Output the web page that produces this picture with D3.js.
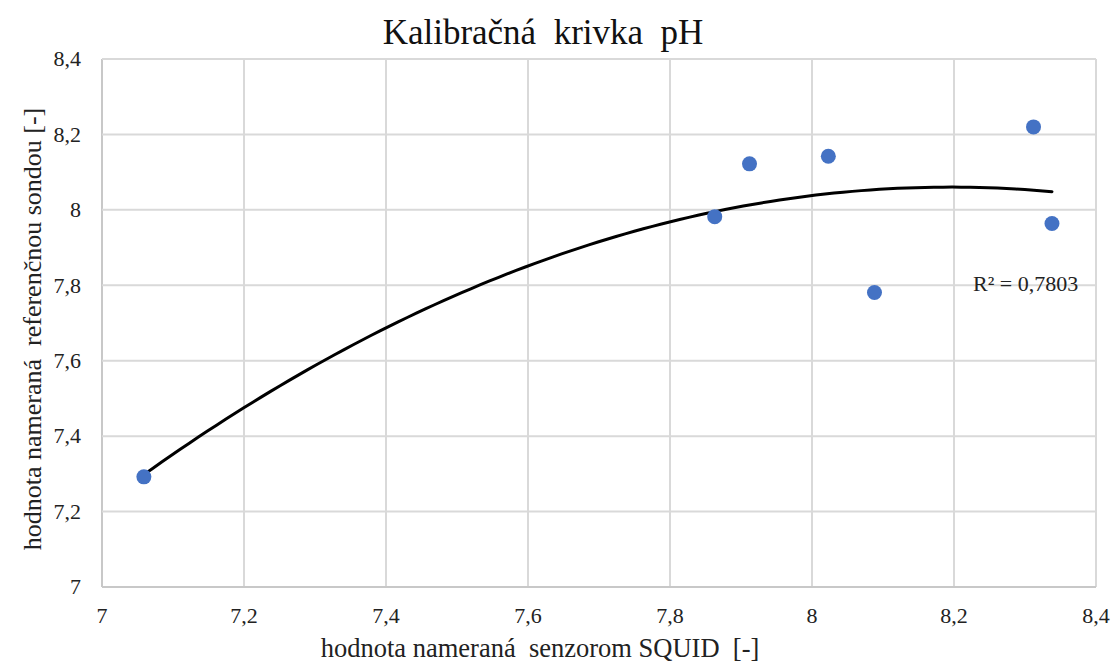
<!DOCTYPE html>
<html>
<head>
<meta charset="utf-8">
<script src="https://cdn.jsdelivr.net/npm/d3@7"></script>
<style>
  html, body { margin: 0; padding: 0; background: #fff; }
  svg { display: block; }
  svg text { font-family: "Liberation Serif", "DejaVu Serif", serif; }
</style>
</head>
<body>
<svg id="chart" width="1120" height="664"></svg>
<script>
// Measured pH: SQUID sensor (x) vs. reference probe (y)
const sensorValues    = [7.059, 7.863, 7.912, 8.023, 8.088, 8.312, 8.338];
const referenceValues = [7.292, 7.982, 8.122, 8.142, 7.781, 8.220, 7.964];
const xTicks = [7, 7.2, 7.4, 7.6, 7.8, 8, 8.2, 8.4];
const yTicks = [7, 7.2, 7.4, 7.6, 7.8, 8, 8.2, 8.4];
const titleText = "Kalibračná  krivka  pH";
const xLabel = "hodnota nameraná  senzorom SQUID  [-]";
const yLabel = "hodnota nameraná  referenčnou sondou [-]";
const r2Label = "R² = 0,7803";

const serif = "Liberation Serif";
const svg = d3.select("#chart");
const plot = { left: 102, right: 1096, top: 59, bottom: 587 };

const x = d3.scaleLinear().domain([7, 8.4]).range([plot.left, plot.right]);
const y = d3.scaleLinear().domain([7, 8.4]).range([plot.bottom, plot.top]);
const fmt = v => String(+v.toFixed(1)).replace(".", ",");

// gridlines
const grid = svg.append("g");
grid.selectAll(".vx").data(xTicks).join("line")
  .attr("x1", d => x(d)).attr("x2", d => x(d))
  .attr("y1", plot.top).attr("y2", plot.bottom)
  .attr("stroke", d => d === 7 ? "#c8c8c8" : "#d9d9d9").attr("stroke-width", 2);
grid.selectAll(".hy").data(yTicks).join("line")
  .attr("x1", plot.left).attr("x2", plot.right)
  .attr("y1", d => y(d)).attr("y2", d => y(d))
  .attr("stroke", d => d === 7 ? "#c8c8c8" : "#d9d9d9").attr("stroke-width", 2);

// tick labels
svg.append("g").selectAll("text").data(xTicks).join("text")
  .attr("x", d => x(d)).attr("y", 623)
  .attr("text-anchor", "middle").attr("font-family", serif).attr("font-size", 22).attr("fill", "#222")
  .text(fmt);
svg.append("g").selectAll("text").data(yTicks).join("text")
  .attr("x", 81).attr("y", d => y(d)).attr("dy", "0.33em")
  .attr("text-anchor", "end").attr("font-family", serif).attr("font-size", 22).attr("fill", "#222")
  .text(fmt);

// polynomial (order 2) least-squares trend
function quadFit(xs, ys) {
  const mx = d3.mean(xs);
  const u = xs.map(v => v - mx);
  const s = [0, 0, 0, 0, 0], t = [0, 0, 0];
  u.forEach((ui, i) => {
    for (let k = 0; k <= 4; k++) s[k] += Math.pow(ui, k);
    for (let k = 0; k <= 2; k++) t[k] += Math.pow(ui, k) * ys[i];
  });
  const A = [[s[0], s[1], s[2]], [s[1], s[2], s[3]], [s[2], s[3], s[4]]];
  const det = m => m[0][0]*(m[1][1]*m[2][2]-m[1][2]*m[2][1]) - m[0][1]*(m[1][0]*m[2][2]-m[1][2]*m[2][0]) + m[0][2]*(m[1][0]*m[2][1]-m[1][1]*m[2][0]);
  const D = det(A);
  const coef = [0, 1, 2].map(c => det(A.map((row, r) => row.map((v, j) => j === c ? t[r] : v))) / D);
  return xv => { const d = xv - mx; return coef[0] + coef[1]*d + coef[2]*d*d; };
}
const trend = quadFit(sensorValues, referenceValues);
const [xmin, xmax] = d3.extent(sensorValues);
const trendPts = d3.range(0, 101).map(i => {
  const xv = xmin + (xmax - xmin) * i / 100;
  return [xv, trend(xv)];
});
svg.append("path")
  .datum(trendPts)
  .attr("d", d3.line().x(d => x(d[0])).y(d => y(d[1])))
  .attr("fill", "none").attr("stroke", "#000").attr("stroke-width", 3)
  .attr("stroke-linecap", "round");

// data points
svg.append("g").selectAll("circle").data(sensorValues).join("circle")
  .attr("cx", d => x(d)).attr("cy", (d, i) => y(referenceValues[i]))
  .attr("r", 7.5).attr("fill", "#4472C4");

// R² annotation
svg.append("text").attr("x", 973).attr("y", 291)
  .attr("font-family", serif).attr("font-size", 22).attr("fill", "#222").text(r2Label);

// titles
svg.append("text").attr("x", 543).attr("y", 44).attr("text-anchor", "middle")
  .attr("font-family", serif).attr("font-size", 35).attr("fill", "#111")
  .style("white-space", "pre").text(titleText);
svg.append("text").attr("x", 540).attr("y", 657).attr("text-anchor", "middle")
  .attr("font-family", serif).attr("font-size", 26.5).attr("fill", "#222")
  .style("white-space", "pre").text(xLabel);
svg.append("text")
  .attr("transform", `translate(41,329) rotate(-90)`)
  .attr("text-anchor", "middle").attr("font-family", serif).attr("font-size", 26).attr("fill", "#222")
  .style("white-space", "pre").text(yLabel);
</script>
</body>
</html>
